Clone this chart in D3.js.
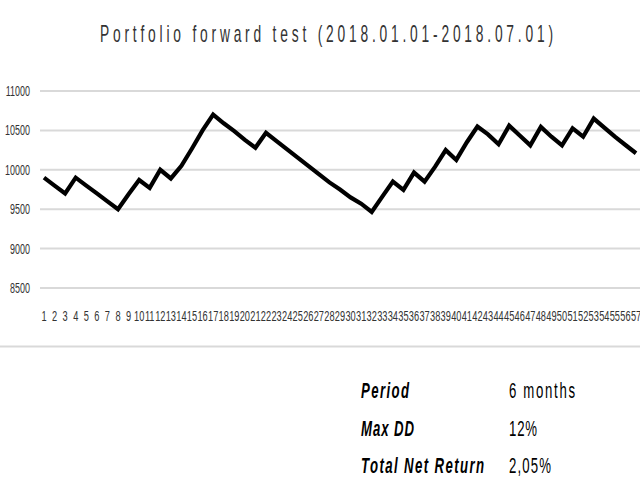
<!DOCTYPE html>
<html>
<head>
<meta charset="utf-8">
<script src="https://cdn.jsdelivr.net/npm/d3@7"></script>
<style>
  html, body { margin: 0; padding: 0; background: #ffffff; }
  svg { display: block; }
</style>
</head>
<body>
<svg id="chart" width="640" height="480"></svg>
<script>
// ---- data ----
const title = "Portfolio forward test (2018.01.01-2018.07.01)";
const categories = ["1","2","3","4","5","6","7","8","9","10","11","12","13","14","15","16","17","18","19","20",
  "21","22","23","24","25","26","27","28","29","30","31","32","33","34","35","36","37","38","39","40",
  "41","42","43","44","45","46","47","48","49","50","51","52","53","54","55","56","57"];
const equity = [9900, 9800, 9700, 9900, 9800, 9700, 9600, 9500, 9690, 9870,
  9770, 10000, 9890, 10050, 10270, 10500, 10700, 10590, 10490, 10380,
  10280, 10470, 10365, 10260, 10155, 10050, 9945, 9840, 9750, 9650,
  9570, 9465, 9660, 9850, 9745, 9965, 9850, 10040, 10250, 10125,
  10350, 10550, 10450, 10325, 10560, 10435, 10310, 10545, 10420, 10310,
  10525, 10420, 10650, 10535, 10420, 10315, 10210];
const yTicks = [8500, 9000, 9500, 10000, 10500, 11000];
const statLabels = ["Period", "Max DD", "Total Net Return"];
const statValues = ["6 months", "12%", "2,05%"];

// ---- layout ----
const svg = d3.select("#chart");
const FONT = "'Liberation Sans', Arial, sans-serif";

const x = d3.scaleBand().domain(categories).range([38.7, 641.3]).padding(0);
const y = d3.scaleLinear().domain([8500, 11000]).range([288, 91]);

// narrow text helper: horizontally compressed glyphs
function narrowText(parent, px, py, txt, opt) {
  const g = parent.append("g")
    .attr("transform", `translate(${px},${py}) scale(${opt.sx},1)`);
  const t = g.append("text")
    .attr("x", 0).attr("y", 0)
    .attr("font-family", FONT)
    .attr("font-size", opt.size)
    .attr("font-weight", opt.weight || "normal")
    .attr("font-style", opt.style || "normal")
    .attr("fill", opt.fill || "#000")
    .attr("text-anchor", opt.anchor || "start")
    .text(txt);
  if (opt.width) {
    t.attr("textLength", opt.width / opt.sx).attr("lengthAdjust", "spacing");
  }
  return t;
}

// title
narrowText(svg, 100, 42, title, {size: 23, sx: 0.6, width: 453, fill: "#333333"});

// gridlines
const grid = svg.append("g");
grid.selectAll("line").data(yTicks).join("line")
  .attr("x1", 40).attr("x2", 640)
  .attr("y1", d => y(d)).attr("y2", d => y(d))
  .attr("stroke", "#d9d9d9").attr("stroke-width", 2);

// y labels
const yl = svg.append("g");
yTicks.forEach(t => {
  narrowText(yl, 30, y(t) + 5, String(t), {size: 14.5, sx: 0.62, anchor: "end", fill: "#333333"});
});

// x labels
const xl = svg.append("g");
categories.forEach(c => {
  narrowText(xl, x(c) + x.bandwidth() / 2, 321, c, {size: 14, sx: 0.66, anchor: "middle", fill: "#333333"});
});

// line
const line = d3.line()
  .x((d, i) => x(categories[i]) + x.bandwidth() / 2)
  .y(d => y(d));
svg.append("path")
  .datum(equity)
  .attr("d", line)
  .attr("fill", "none")
  .attr("stroke", "#000")
  .attr("stroke-width", 4.2)
  .attr("stroke-linejoin", "miter");

// separator
svg.append("line")
  .attr("x1", 0).attr("x2", 640).attr("y1", 346.5).attr("y2", 346.5)
  .attr("stroke", "#d9d9d9").attr("stroke-width", 2);

// stats table
const rowY = [398, 436, 473];
const labelW = [48, 53, 123];
const valueW = [66, 28, 42];
const tbl = svg.append("g");
statLabels.forEach((s, i) => {
  narrowText(tbl, 361, rowY[i], s, {size: 22, sx: 0.6, weight: "bold", style: "italic", width: labelW[i]});
});
statValues.forEach((s, i) => {
  narrowText(tbl, 509, rowY[i], s, {size: 22, sx: 0.6, width: valueW[i]});
});
</script>
</body>
</html>
